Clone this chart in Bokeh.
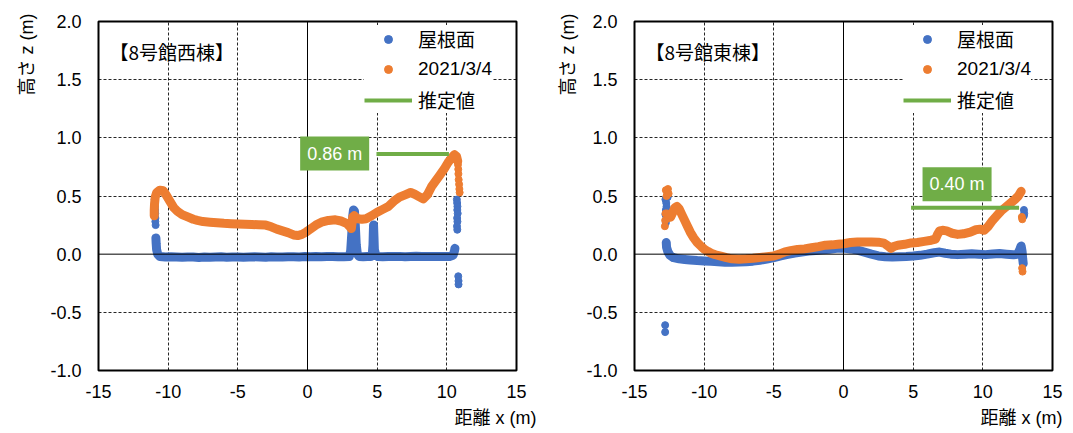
from bokeh.plotting import figure
from bokeh.models import (Range1d, FixedTicker, PrintfTickFormatter, Span, Label, Title,
                          Legend, LegendItem)
from bokeh.layouts import row
from bokeh.embed import file_html
from bokeh.resources import INLINE

# ---------------- data: 8号館西棟 (left) ----------------
west_title = "【8号館西棟】"
west_roof_band_x = [-10.88, -10.86, -10.83, -10.75, -10.6, -10.2, -9.8, -9.4, -9.0, -8.6, -8.2,
                    -7.8, -7.4, -7.0, -6.6, -6.2, -5.8, -5.4, -5.0, -4.6, -4.2, -3.8, -3.4,
                    -3.0, -2.6, -2.2, -1.8, -1.4, -1.0, -0.6, -0.2, 0.2, 0.6, 1.0, 1.4, 1.8,
                    2.2, 2.6, 3.0, 3.1, 3.18, 3.25, 3.3, 3.37, 3.43, 3.5, 3.58, 3.7, 4.0,
                    4.3, 4.55, 4.65, 4.7, 4.72, 4.74, 4.77, 4.8, 4.9, 5.05, 5.4, 5.8, 6.2,
                    6.6, 7.0, 7.4, 7.8, 8.2, 8.6, 9.0, 9.4, 9.8, 10.2, 10.45, 10.55, 10.58]
west_roof_band_z = [0.14, 0.09, 0.04, 0.0, -0.02, -0.025, -0.022, -0.025, -0.027, -0.024, -0.025,
                    -0.028, -0.024, -0.026, -0.025, -0.023, -0.026, -0.024, -0.025, -0.026, -0.024,
                    -0.023, -0.025, -0.026, -0.022, -0.024, -0.025, -0.023, -0.022, -0.024, -0.021,
                    -0.023, -0.02, -0.022, -0.021, -0.02, -0.022, -0.023, -0.02, 0.03, 0.18,
                    0.33, 0.38, 0.37, 0.25, 0.08, 0.0, -0.02, -0.022, -0.02, -0.02, 0.0, 0.08,
                    0.17, 0.25, 0.15, 0.04, -0.01, -0.02, -0.022, -0.02, -0.021, -0.019, -0.022,
                    -0.02, -0.018, -0.021, -0.02, -0.019, -0.021, -0.02, -0.02, -0.01, 0.03, 0.05]
west_roof_pts_x = [-10.97, -10.96, -10.95, -10.94, -10.93, -10.92, -10.92, -10.9,
                   10.72, 10.74, 10.76, 10.75, 10.78, 10.74, 10.76, 10.73, 10.75,
                   10.82, 10.84, 10.84]
west_roof_pts_z = [0.47, 0.44, 0.41, 0.38, 0.35, 0.31, 0.28, 0.25,
                   0.47, 0.44, 0.41, 0.38, 0.35, 0.31, 0.28, 0.24, 0.21,
                   -0.19, -0.23, -0.26]
west_obs_band_x = [-11.0, -11.0, -10.98, -10.93, -10.82, -10.6, -10.35, -10.15, -9.85, -9.6,
                   -9.35, -9.0, -8.6, -8.2, -7.9, -7.5, -7.0, -6.5, -6.0, -5.5, -5.0, -4.5,
                   -4.0, -3.5, -3.0, -2.6, -2.2, -1.8, -1.4, -1.0, -0.7, -0.4, -0.1, 0.2,
                   0.6, 1.0, 1.5, 2.0, 2.4, 2.8, 3.05, 3.15, 3.25, 3.35, 3.6, 3.9, 4.2, 4.6,
                   5.0, 5.4, 5.8, 6.2, 6.6, 7.0, 7.4, 7.7, 8.0, 8.3, 8.6, 8.9, 9.2, 9.5,
                   9.8, 10.1, 10.35, 10.55, 10.7, 10.78]
west_obs_band_z = [0.33, 0.38, 0.43, 0.49, 0.53, 0.55, 0.545, 0.51, 0.45, 0.4,
                   0.37, 0.34, 0.32, 0.3, 0.29, 0.28, 0.275, 0.27, 0.265, 0.262, 0.26, 0.258,
                   0.255, 0.253, 0.25, 0.235, 0.215, 0.2, 0.185, 0.165, 0.16, 0.17, 0.19, 0.215,
                   0.25, 0.275, 0.29, 0.295, 0.285, 0.265, 0.235, 0.22, 0.32, 0.33, 0.305, 0.3,
                   0.305, 0.33, 0.36, 0.385, 0.41, 0.455, 0.49, 0.51, 0.53, 0.515, 0.495, 0.475,
                   0.51, 0.58, 0.63, 0.68, 0.73, 0.79, 0.83, 0.855, 0.84, 0.8]
west_obs_pts_x = [10.8, 10.82, 10.83, 10.85, 10.88, 10.9, 10.92]
west_obs_pts_z = [0.77, 0.73, 0.69, 0.64, 0.6, 0.56, 0.53]
west_est_x = [4.95, 10.15]
west_est_value = 0.86
west_est_text = "0.86 m"
west_est_label_pos = (1.95, 0.865)

# ---------------- data: 8号館東棟 (right) ----------------
east_title = "【8号館東棟】"
east_roof_band_x = [-12.72, -12.7, -12.6, -12.45, -12.2, -11.8, -11.4, -11.0, -10.5, -10.0,
                    -9.5, -9.0, -8.5, -8.0, -7.5, -7.0, -6.5, -6.0, -5.5, -5.0, -4.5, -4.0,
                    -3.5, -3.0, -2.5, -2.0, -1.5, -1.0, -0.5, 0.0, 0.5, 1.0, 1.5, 2.0, 2.5,
                    3.0, 3.5, 4.0, 4.5, 5.0, 5.5, 6.0, 6.5, 6.9, 7.3, 7.7, 8.2, 8.7, 9.2,
                    9.7, 10.2, 10.7, 11.2, 11.7, 12.2, 12.5, 12.65, 12.75, 12.82, 12.86, 12.9]
east_roof_band_z = [0.1, 0.06, 0.02, -0.01, -0.03, -0.04, -0.045, -0.05, -0.055, -0.058,
                    -0.062, -0.066, -0.07, -0.07, -0.068, -0.065, -0.06, -0.052, -0.042, -0.03,
                    -0.015, -0.002, 0.01, 0.018, 0.026, 0.032, 0.037, 0.043, 0.05, 0.052, 0.045,
                    0.035, 0.018, 0.0, -0.015, -0.022, -0.025, -0.022, -0.02, -0.016, -0.01,
                    0.0, 0.012, 0.018, 0.008, 0.0, -0.004, 0.0, 0.004, 0.0, -0.004, 0.002,
                    0.005, 0.0, -0.005, 0.0, 0.04, 0.07, 0.02, -0.04, -0.08]
east_roof_pts_x = [-12.78, -12.72, -12.7, -12.75, -12.78, -12.72, -12.75, -12.62,
                   -12.8, -12.8, 12.95, 12.97, 12.95]
east_roof_pts_z = [0.47, 0.44, 0.41, 0.38, 0.34, 0.3, 0.27, 0.49,
                   -0.61, -0.67, 0.38, 0.35, 0.33]
east_obs_band_x = [-12.4, -12.25, -12.1, -11.95, -11.8, -11.6, -11.4, -11.2, -11.0, -10.75,
                   -10.5, -10.2, -10.0, -9.75, -9.5, -9.2, -8.8, -8.4, -8.0, -7.5, -7.0,
                   -6.5, -6.0, -5.5, -5.0, -4.6, -4.2, -3.8, -3.3, -2.8, -2.3, -1.8, -1.3,
                   -0.8, -0.4, 0.0, 0.5, 1.0, 1.5, 2.0, 2.5, 2.9, 3.2, 3.4, 3.6, 3.9, 4.4,
                   4.85, 5.3, 5.8, 6.3, 6.6, 6.75, 6.9, 7.1, 7.4, 7.8, 8.2, 8.6, 9.1, 9.5,
                   9.8, 10.1, 10.4, 10.7, 11.0, 11.3, 11.6, 12.0, 12.3, 12.55, 12.75]
east_obs_band_z = [0.32, 0.36, 0.4, 0.41, 0.39, 0.34, 0.29, 0.24, 0.19, 0.14,
                   0.1, 0.065, 0.043, 0.025, 0.008, -0.005, -0.017, -0.03, -0.04, -0.043, -0.04,
                   -0.035, -0.028, -0.022, -0.015, 0.0, 0.02, 0.03, 0.04, 0.045, 0.055, 0.065,
                   0.077, 0.08, 0.085, 0.09, 0.1, 0.105, 0.105, 0.105, 0.103, 0.095, 0.07, 0.05,
                   0.065, 0.077, 0.085, 0.097, 0.1, 0.11, 0.12, 0.13, 0.17, 0.2, 0.205, 0.2,
                   0.18, 0.17, 0.175, 0.19, 0.21, 0.215, 0.205, 0.24, 0.29, 0.33, 0.37, 0.4,
                   0.44, 0.47, 0.5, 0.54]
east_obs_pts_x = [-12.75, -12.65, -12.6, -12.7, -12.55, -12.82, -12.8, -12.78, -12.65, -12.55,
                  -12.45, 12.8, 12.83, 12.82, 12.85]
east_obs_pts_z = [0.55, 0.53, 0.56, 0.5, 0.52, 0.24, 0.29, 0.35, 0.35, 0.31,
                  0.33, 0.32, 0.3, -0.12, -0.15]
east_est_x = [4.85, 12.6]
east_est_value = 0.40
east_est_text = "0.40 m"
east_est_label_pos = (8.15, 0.60)

# ---------------- common labels ----------------
series_labels = ["屋根面", "2021/3/4", "推定値"]
x_title = "距離 x (m)"
y_title = "高さ z (m)"
x_ticks = [-15, -10, -5, 0, 5, 10, 15]
y_ticks = [-1.0, -0.5, 0.0, 0.5, 1.0, 1.5, 2.0]
x_grid = [-10, -5, 5, 10]
y_grid = [-0.5, 0.5, 1.0, 1.5]

BLUE = "#4472C4"
ORANGE = "#ED7D31"
GREEN = "#70AD47"
LAT = "Liberation Sans"
MIX = "Liberation Sans, Noto Sans CJK JP"
JP = "Noto Sans CJK JP"
H = 433


def panel(width, left_border, ytitle_standoff, xtitle_offset, title, rbx, rbz, rpx, rpz,
          obx, obz, opx, opz, est_x, est_v, est_txt, est_pos, legend_dx):
    p = figure(width=width, height=H, output_backend="svg", toolbar_location=None,
               x_range=Range1d(-15, 15), y_range=Range1d(-1, 2))
    p.min_border_left = left_border
    p.min_border_right = width - left_border - 418
    p.min_border_top = 21
    p.min_border_bottom = H - 21 - 350
    p.background_fill_color = "white"
    p.border_fill_color = "white"
    p.outline_line_color = "black"
    p.outline_line_width = 2

    for ax in (p.xaxis[0], p.yaxis[0]):
        ax.axis_line_color = None
        ax.major_tick_line_color = None
        ax.minor_tick_line_color = None
        ax.major_tick_out = 0
        ax.major_tick_in = 0
        ax.minor_tick_out = 0
        ax.minor_tick_in = 0
        ax.major_label_text_font = LAT
        ax.major_label_text_font_size = "18px"
        ax.major_label_text_color = "black"
    p.xaxis.ticker = FixedTicker(ticks=x_ticks)
    p.yaxis.ticker = FixedTicker(ticks=y_ticks)
    p.xaxis.formatter = PrintfTickFormatter(format="%d")
    p.yaxis.formatter = PrintfTickFormatter(format="%.1f")
    p.xaxis.major_label_standoff = 14
    p.yaxis.major_label_standoff = 17

    p.xgrid.ticker = FixedTicker(ticks=x_grid)
    p.ygrid.ticker = FixedTicker(ticks=y_grid)
    for g in (p.xgrid[0], p.ygrid[0]):
        g.grid_line_color = "black"
        g.grid_line_dash = "3 2"
        g.grid_line_width = 1
        g.grid_line_alpha = 0.85

    p.add_layout(Span(location=0, dimension="width", line_color="black", line_width=1))
    p.add_layout(Span(location=0, dimension="height", line_color="black", line_width=1))

    # roof (blue)
    p.line(rbx, rbz, line_color=BLUE, line_width=9, line_join="round", line_cap="round")
    r_roof = p.scatter(rpx, rpz, size=7, fill_color=BLUE, line_color=BLUE)
    # observed (orange)
    p.line(obx, obz, line_color=ORANGE, line_width=9, line_join="round", line_cap="round")
    r_obs = p.scatter(opx, opz, size=7, fill_color=ORANGE, line_color=ORANGE)
    # estimate (green)
    r_est = p.line(est_x, [est_v, est_v], line_color=GREEN, line_width=4)

    p.add_layout(Label(x=est_pos[0], y=est_pos[1], text=est_txt, text_align="center",
                       text_baseline="middle", text_color="white", text_font=LAT,
                       text_font_size="18px", background_fill_color=GREEN, padding=7))

    legend = Legend(items=[LegendItem(label=series_labels[0], renderers=[r_roof]),
                           LegendItem(label=series_labels[1], renderers=[r_obs]),
                           LegendItem(label=series_labels[2], renderers=[r_est])],
                    location=(266 + legend_dx, 257), orientation="vertical",
                    label_text_font=MIX, label_text_font_size="19px", label_text_color="black",
                    glyph_width=48, glyph_height=20, label_height=20, label_standoff=6,
                    spacing=6, padding=6, margin=0, border_line_color=None,
                    background_fill_color="white", background_fill_alpha=1.0)
    p.add_layout(legend)

    # in-plot title
    p.add_layout(Label(x=11, y=319, x_units="screen", y_units="screen", text=title,
                       text_font=JP, text_font_size="19px", text_color="black",
                       text_baseline="middle", text_align="left"))

    # axis titles (placed in the side panels so that they are not clipped)
    p.add_layout(Title(text=x_title, align="right", offset=xtitle_offset, standoff=11,
                       vertical_align="bottom", text_font=MIX, text_font_size="18px",
                       text_font_style="normal", text_color="black"), "below")
    p.add_layout(Title(text=y_title, align="right", offset=-8, standoff=ytitle_standoff,
                       vertical_align="bottom", text_font=MIX, text_font_size="18px",
                       text_font_style="normal", text_color="black"), "left")
    return p


p1 = panel(540, 98, 22, -20, west_title, west_roof_band_x, west_roof_band_z,
           west_roof_pts_x, west_roof_pts_z, west_obs_band_x, west_obs_band_z,
           west_obs_pts_x, west_obs_pts_z, west_est_x, west_est_value, west_est_text,
           west_est_label_pos, 0)
p2 = panel(533, 94, 12, -10, east_title, east_roof_band_x, east_roof_band_z,
           east_roof_pts_x, east_roof_pts_z, east_obs_band_x, east_obs_band_z,
           east_obs_pts_x, east_obs_pts_z, east_est_x, east_est_value, east_est_text,
           east_est_label_pos, 3)

layout = row(p1, p2, spacing=0)
open("out.html", "w").write(file_html(layout, INLINE))
